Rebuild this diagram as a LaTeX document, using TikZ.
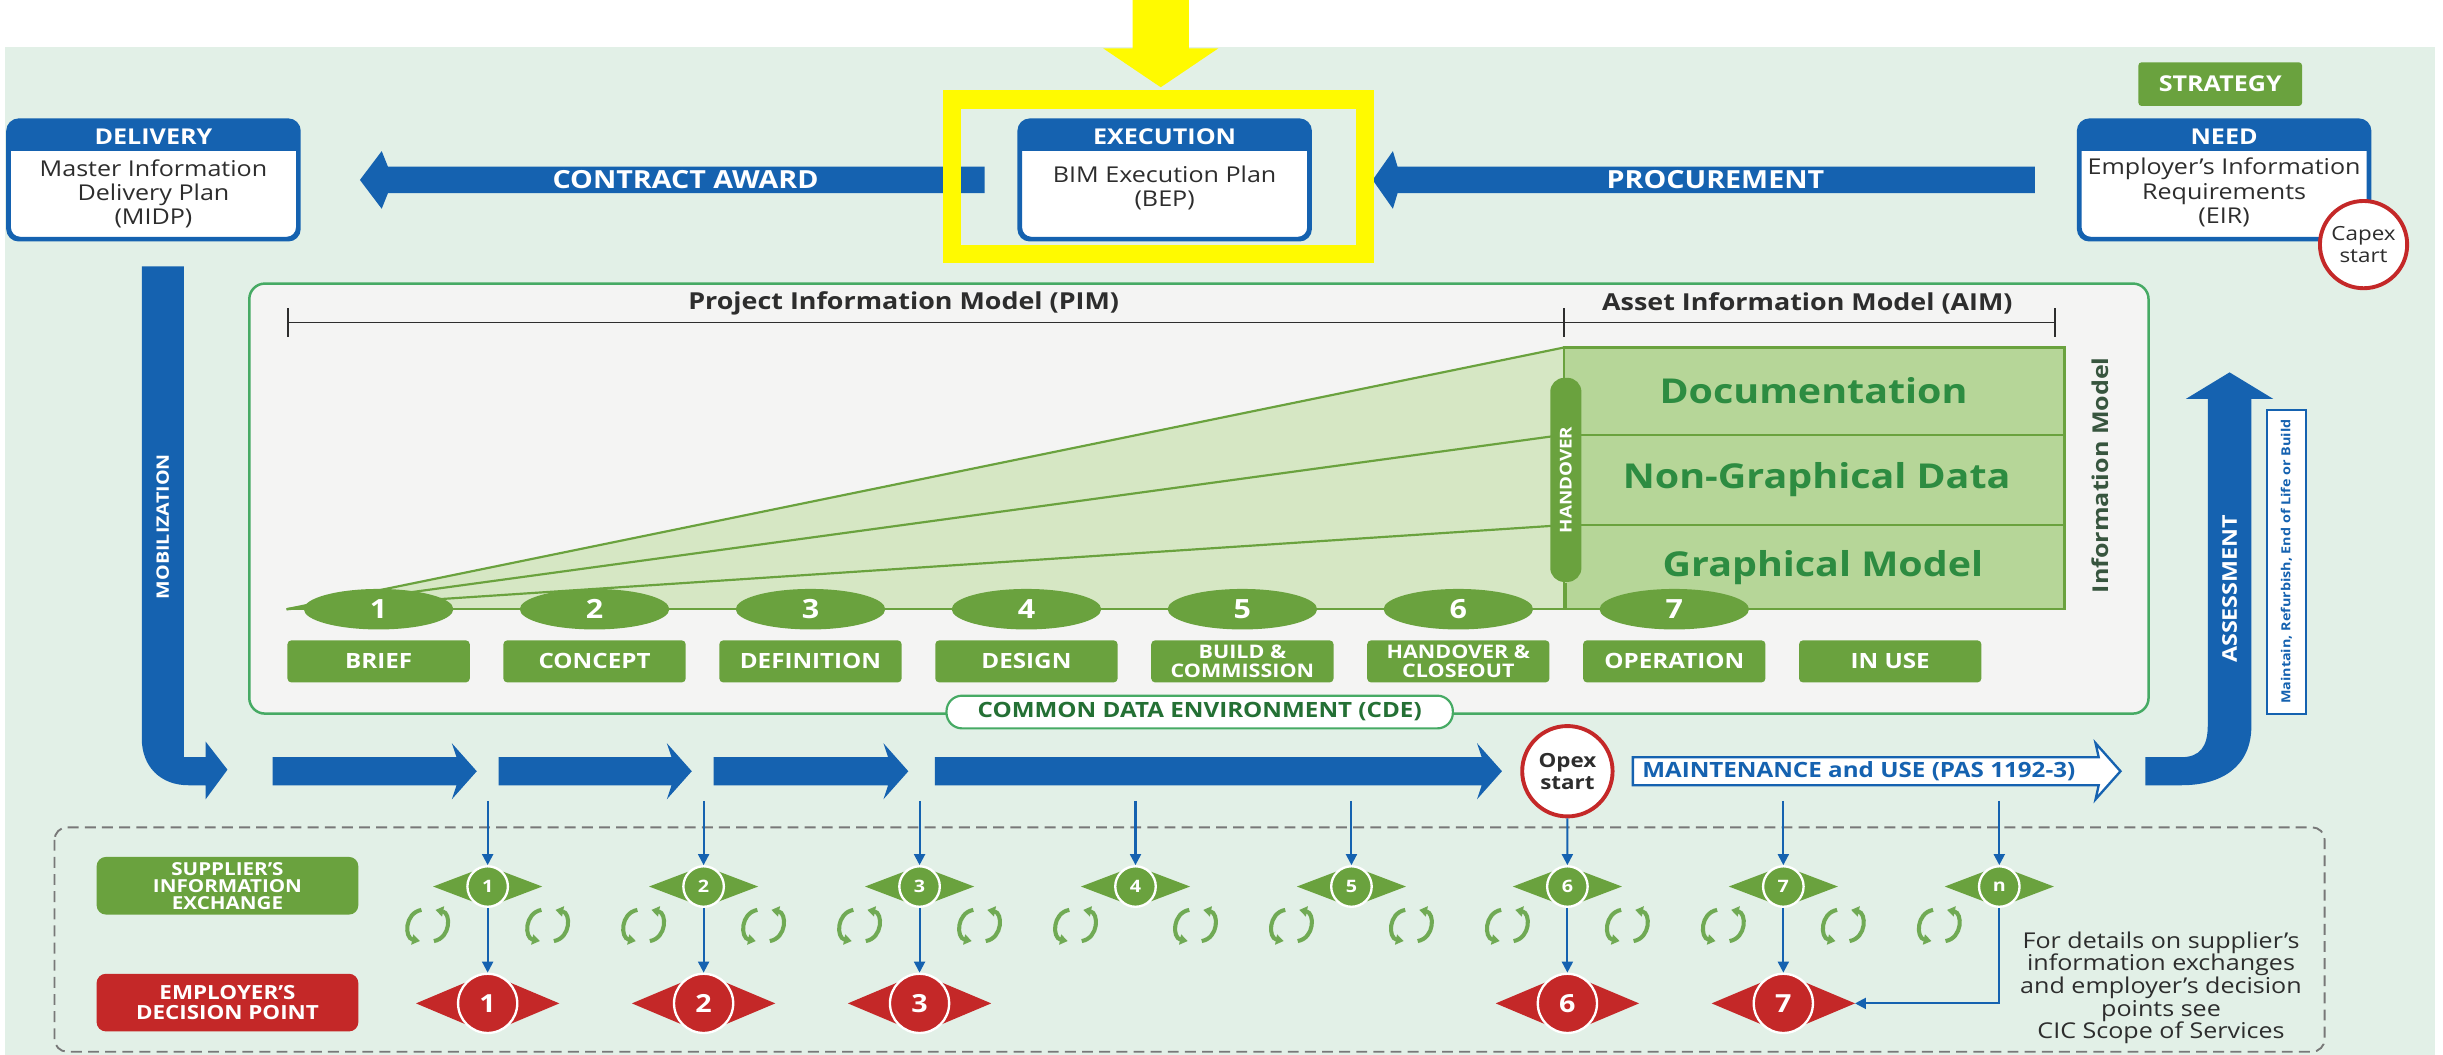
\documentclass[tikz,border=0pt]{standalone}
\usepackage{fontspec}
\setmainfont{Open Sans}[FakeStretch=1.15]
\usetikzlibrary{shapes.geometric,arrows.meta,calc}
\definecolor{panel}{RGB}{226,240,231}
\definecolor{bimblue}{RGB}{21,98,176}
\definecolor{gdark}{RGB}{106,162,62}
\definecolor{glight}{RGB}{214,231,196}
\definecolor{gaim}{RGB}{182,214,152}
\definecolor{gtext}{RGB}{45,140,65}
\definecolor{gcyc}{RGB}{112,170,84}
\definecolor{cdeline}{RGB}{70,170,100}
\definecolor{innerfill}{RGB}{244,244,243}
\definecolor{bimred}{RGB}{196,40,40}
\definecolor{yel}{RGB}{255,250,0}
\definecolor{dashgray}{RGB}{120,120,120}
\definecolor{txtgray}{RGB}{45,45,45}
\definecolor{imtext}{RGB}{55,85,62}
\newcommand{\myfs}[2]{\fontsize{#1}{#2}\selectfont}
\begin{document}
\begin{tikzpicture}[x=1pt,y=-1pt,
  infobox/.style={rectangle, rounded corners=7pt, minimum width=185pt, minimum height=75pt, draw=bimblue, line width=2pt, fill=white, inner sep=0pt},
  hdr/.style={text=white, font=\bfseries\myfs{14}{15}, inner sep=0pt},
  body/.style={text=txtgray, align=center, font=\myfs{14}{15.5}, inner sep=0pt},
  lbl/.style={text=white, font=\bfseries\myfs{16}{17}, inner sep=0pt},
  oval/.style={ellipse, fill=gdark, minimum width=96pt, minimum height=26pt, inner sep=0pt, text=white, font=\bfseries\myfs{17}{17}},
  stagebox/.style={rectangle, rounded corners=2.5pt, fill=gdark, minimum width=117pt, minimum height=27pt, inner sep=0pt, text=white, align=center, font=\bfseries\myfs{13.5}{14}},
  stagetwo/.style={font=\bfseries\myfs{12}{12}},
  spc/.style={circle, fill=gdark, draw=white, line width=1.5pt, minimum size=26pt, inner sep=0pt, text=white, font=\bfseries\myfs{11}{11}},
  epc/.style={circle, fill=bimred, draw=white, line width=1.5pt, minimum size=38pt, inner sep=0pt, text=white, font=\bfseries\myfs{16}{16}},
  thinarrow/.style={draw=bimblue, line width=1.3pt, -{Triangle[length=7pt,width=7pt]}},
  aimtxt/.style={text=gtext, font=\bfseries\myfs{22}{23}, inner sep=0pt},
  cyc/.pic={
    \draw[draw=gcyc, line width=2.6pt, -{Triangle[length=5pt,width=6.5pt]}] (-4,-10) .. controls (-15,-8) and (-15,8) .. (-5,10);
    \draw[draw=gcyc, line width=2.6pt, -{Triangle[length=5pt,width=6.5pt]}] (4,10) .. controls (15,8) and (15,-8) .. (5,-10);
  }
]
\useasboundingbox (0,0) rectangle (1568,677);
\fill[white] (0,0) rectangle (1568,677);
\fill[panel] (3,30) rectangle (1563,677);

% yellow pointer arrow
\fill[yel] (727,0) -- (763,0) -- (763,31) -- (782,31) -- (745,56) -- (708,31) -- (727,31) -- cycle;

% top process arrows
\fill[bimblue] (632,107) -- (249,107) -- (245,97) -- (231,115.5) -- (245,134) -- (249,124) -- (632,124) -- cycle;
\fill[bimblue] (1306,107) -- (897,107) -- (894,97) -- (881,115.5) -- (894,134) -- (897,124) -- (1306,124) -- cycle;
\node[lbl] (ca) at (440,115.5) {CONTRACT AWARD};
\node[lbl] (pr) at (1101,115.5) {PROCUREMENT};

% yellow frame
\draw[yel, line width=12pt] (611,64) rectangle (876,163);

% info boxes
\node[infobox] (del) at (98.5,115.5) {};
\node[infobox] (exe) at (747.5,115.5) {};
\node[infobox] (need) at (1427.5,115.5) {};
\foreach \b in {del,exe,need}{
  \begin{scope}
    \clip[rounded corners=7pt] (\b.north west) rectangle (\b.south east);
    \fill[bimblue] (\b.north west) rectangle ($(\b.north east)+(0,20)$);
  \end{scope}
  \draw[bimblue, line width=2pt, rounded corners=7pt] (\b.north west) rectangle (\b.south east);
}
\node[hdr] (delh) at ($(del.north)+(0,10.5)$) {DELIVERY};
\node[hdr] (exeh) at ($(exe.north)+(0,10.5)$) {EXECUTION};
\node[hdr] (needh) at ($(need.north)+(0,10.5)$) {NEED};
\node[body] (delb) at ($(del.center)+(0,9)$) {Master Information\\Delivery Plan\\(MIDP)};
\node[body] (exeb) at ($(exe.center)+(0,5)$) {BIM Execution Plan\\(BEP)};
\node[body] (needb) at ($(need.center)+(0,8)$) {Employer's Information\\Requirements\\(EIR)};

\node[rectangle, rounded corners=2pt, fill=gdark, minimum width=105pt, minimum height=28pt, text=white, font=\bfseries\myfs{14}{15}] (strat) at (1425,54) {STRATEGY};
\node[circle, draw=bimred, line width=2.5pt, fill=white, minimum size=56pt, inner sep=0pt, align=center, text=txtgray, font=\myfs{12.5}{14}] (capex) at (1517,157) {Capex\\start};

% mobilization arrow
\fill[bimblue] (118,171) -- (91,171) -- (91,474) .. controls (91,492) and (103,504) .. (121,504) -- (132,504) -- (132,513) -- (146,494) -- (132,476) -- (132,486) -- (118,486) -- cycle;
\node[lbl, rotate=90, font=\bfseries\myfs{11}{12}] (mobt) at (104.5,338) {MOBILIZATION};

% assessment arrow
\fill[bimblue] (1377,486) -- (1400,486) .. controls (1412,486) and (1417,479) .. (1417,466) -- (1417,256) -- (1403,256) -- (1431,239) -- (1459,256) -- (1445,256) -- (1445,466) .. controls (1445,492) and (1426,504) .. (1400,504) -- (1377,504) -- cycle;
\node[lbl, rotate=90, font=\bfseries\myfs{13}{14}] (asst) at (1431,378) {ASSESSMENT};
\node[rectangle, rotate=90, draw=bimblue, fill=white, line width=1.3pt, minimum width=195pt, minimum height=25pt, inner sep=0pt, text=bimblue, font=\bfseries\myfs{8}{9}] (mnt) at (1467.5,360.5) {Maintain, Refurbish, End of Life or Build};

% CDE container
\node[rectangle, rounded corners=10pt, fill=innerfill, draw=cdeline, line width=1.6pt, minimum width=1219pt, minimum height=276pt, inner sep=0pt] (cde) at (769.5,320) {};
\node[rectangle, rounded corners=10pt, fill=white, draw=cdeline, line width=1.4pt, minimum width=325pt, minimum height=21pt, inner sep=0pt, text=gtext!80!black, font=\bfseries\myfs{13.5}{14}] (cdel) at (770,457) {COMMON DATA ENVIRONMENT (CDE)};

% PIM / AIM bracket
\coordinate (pimL) at (185,207);
\coordinate (pimM) at (1004,207);
\coordinate (aimR) at (1319,207);
\draw[txtgray, line width=1pt] (pimL) -- (aimR);
\foreach \c in {pimL,pimM,aimR} \draw[txtgray, line width=1.4pt] ($(\c)+(0,-9)$) -- ($(\c)+(0,9)$);
\node[text=txtgray, font=\bfseries\myfs{15}{16}, inner sep=0pt] (pimt) at (580,195) {Project Information Model (PIM)};
\node[text=txtgray, font=\bfseries\myfs{15}{16}, inner sep=0pt] (aimt) at (1160,195) {Asset Information Model (AIM)};

% wedge
\coordinate (apex) at (184,391);
\fill[glight] (apex) -- (1004,223) -- (1004,391) -- cycle;
\draw[gdark, line width=1.4pt] (apex) -- (1004,223);
\draw[gdark, line width=1.4pt] (apex) -- (1004,279);
\draw[gdark, line width=1.4pt] (apex) -- (1004,337);

% AIM box
\fill[gaim] (1004,223) rectangle (1325,391);
\draw[gdark, line width=1.4pt] (1004,223) rectangle (1325,391);
\draw[gdark, line width=1.2pt] (1004,279) -- (1325,279);
\draw[gdark, line width=1.2pt] (1004,337) -- (1325,337);
\node[aimtxt] (doc) at (1164,251) {Documentation};
\node[aimtxt] (ngd) at (1166,308) {Non-Graphical Data};
\node[aimtxt] (gm) at (1170,364) {Graphical Model};
\node[text=imtext, rotate=90, font=\bfseries\myfs{14}{15}, inner sep=0pt] (imt) at (1348,305) {Information Model};

% baseline through stages
\draw[gdark, line width=1.6pt] (apex) -- (1075,391);
\draw[gdark, line width=1.6pt] (1005,374) -- (1005,391);
\node[rectangle, rounded corners=9pt, fill=gdark, minimum width=131pt, minimum height=20pt, inner sep=0pt, rotate=90, text=white, font=\bfseries\myfs{10.5}{10.5}] (hov) at (1005,308) {HANDOVER};

% stage ovals and labels
\foreach \i in {1,...,7}{
  \pgfmathsetmacro{\xx}{243+138.6*(\i-1)}
  \node[oval] (ov\i) at (\xx,391) {\i};
}
\foreach \i/\t in {1/BRIEF,2/CONCEPT,3/DEFINITION,4/DESIGN,7/OPERATION,8/IN USE}{
  \pgfmathsetmacro{\xx}{243+138.6*(\i-1)}
  \node[stagebox] (st\i) at (\xx,424.5) {\t};
}
\node[stagebox, stagetwo] (st5) at (797.4,424.5) {BUILD \&\\COMMISSION};
\node[stagebox, stagetwo] (st6) at (936,424.5) {HANDOVER \&\\CLOSEOUT};

% flow arrows
\foreach \a/\b in {175/306,320/444,458/583,600/964}{
  \fill[bimblue] (\a,486) -- ({\b-13},486) -- ({\b-16},477) -- (\b,495) -- ({\b-16},513) -- ({\b-13},504) -- (\a,504) -- cycle;
}
\node[circle, draw=bimred, line width=2.5pt, fill=white, minimum size=58pt, inner sep=0pt, align=center, text=txtgray, font=\bfseries\myfs{12.5}{14}] (opex) at (1006,495) {Opex\\start};
\fill[white] (1048,486) -- (1347,486) -- (1345,477) -- (1361,495) -- (1345,513) -- (1347,504) -- (1048,504) -- cycle;
\draw[bimblue, line width=1.5pt] (1048,486) -- (1347,486) -- (1345,477) -- (1361,495) -- (1345,513) -- (1347,504) -- (1048,504) -- cycle;
\node[text=bimblue, font=\bfseries\myfs{13.5}{14}, inner sep=0pt] (mut) at (1193,495) {MAINTENANCE and USE (PAS 1192-3)};

% exchange / decision area
\draw[dashgray, line width=1.2pt, dash pattern=on 7pt off 4pt, rounded corners=8pt] (35,531) rectangle (1492,675);
\node[rectangle, rounded corners=6pt, fill=gdark, minimum width=168pt, minimum height=37pt, inner sep=0pt, align=center, text=white, font=\bfseries\myfs{11.5}{11}] (sup) at (146,568.5) {SUPPLIER'S\\INFORMATION\\EXCHANGE};
\node[rectangle, rounded corners=6pt, fill=bimred, minimum width=168pt, minimum height=37pt, inner sep=0pt, align=center, text=white, font=\bfseries\myfs{12.5}{13}] (emp) at (146,643.5) {EMPLOYER'S\\DECISION POINT};

\foreach \k/\l in {0/1,1/2,2/3,3/4,4/5,5/6,6/7,7/n}{
  \pgfmathsetmacro{\xx}{313+138.6*\k}
  \fill[gdark] ({\xx-35},569) -- ({\xx-6},558) -- ({\xx-6},580) -- cycle;
  \fill[gdark] ({\xx+35},569) -- ({\xx+6},558) -- ({\xx+6},580) -- cycle;
  \node[spc] (sp\l) at (\xx,569) {\l};
  \coordinate (top\l) at (\xx,514);
}
\foreach \k in {0,...,6}{
  \pgfmathsetmacro{\xx}{313+138.6*\k}
  \pic at ({\xx-38.5},594) {cyc};
  \pic at ({\xx+38.5},594) {cyc};
}
\pic at ({313+138.6*7-38.5},594) {cyc};
\foreach \k/\l in {0/1,1/2,2/3,5/6,6/7}{
  \pgfmathsetmacro{\xx}{313+138.6*\k}
  \fill[bimred] ({\xx-46},644) -- ({\xx-8},628) -- ({\xx-8},660) -- cycle;
  \fill[bimred] ({\xx+46},644) -- ({\xx+8},628) -- ({\xx+8},660) -- cycle;
  \node[epc] (ep\l) at (\xx,644) {\l};
  \coordinate (eptip\l) at ({\xx+46},644);
}
\foreach \l in {1,2,3,4,5,7,n} \draw[thinarrow] (top\l) -- (sp\l.north);
\draw[thinarrow] (opex.south) -- (sp6.north);
\foreach \l in {1,2,3,6,7} \draw[thinarrow] (sp\l.south) -- (ep\l.north);
\draw[thinarrow] (spn.south) |- (eptip7);

\node[text=txtgray, align=center, font=\myfs{14}{14.5}, inner sep=0pt] (note) at (1387,634) {For details on supplier's\\information exchanges\\and employer's decision\\points see\\CIC Scope of Services};
\end{tikzpicture}
\end{document}
